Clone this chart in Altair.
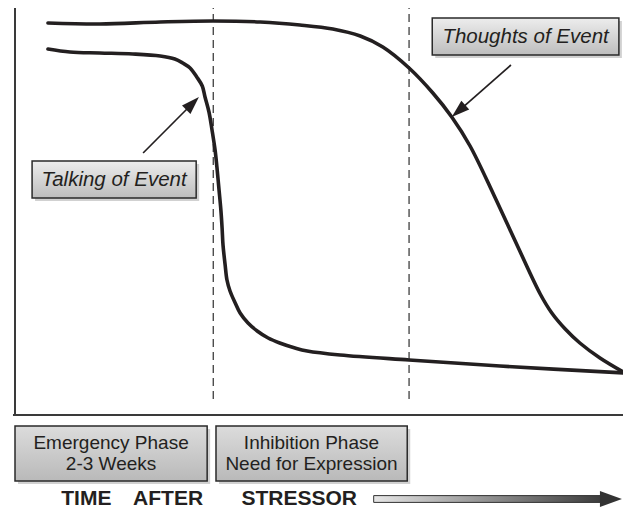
import math
import altair as alt
import pandas as pd

# ---------------- data (time: arbitrary units 0-100, level: 0-100) ----------------
thoughts_t = [5.4, 13.9, 23.8, 32.5, 40.2, 46.7, 52.1, 56.6, 60.3, 64.6, 68.5, 71.6,
              74.6, 78.5, 82.3, 86.1, 88.0, 90.2, 92.6, 95.9, 100.0]
thoughts_v = [98.0, 97.75, 98.25, 98.5, 98.25, 97.5, 96.5, 94.75, 92.0, 86.75, 80.5, 74.5,
              67.25, 55.0, 42.5, 30.25, 25.5, 21.5, 18.0, 14.25, 10.5]

talking_t = [5.4, 9.0, 13.9, 19.3, 23.8, 26.2, 27.5, 28.7, 29.8, 30.7, 31.15, 31.8, 32.3,
             32.8, 33.1, 33.45, 33.75, 33.95, 34.1, 34.45, 34.75, 35.25, 36.1, 36.9, 38.2,
             39.7, 41.5, 43.4, 45.9, 47.9, 53.3, 64.6, 79.5, 100.0]
talking_v = [91.5, 90.75, 90.5, 90.25, 89.75, 89.0, 88.0, 86.75, 84.5, 82.25, 79.5, 75.75, 71.25,
             66.25, 62.0, 56.25, 51.25, 46.75, 42.5, 37.5, 33.75, 31.0, 28.0, 25.5, 23.0,
             21.0, 19.25, 18.0, 16.75, 16.0, 15.0, 13.75, 12.25, 10.5]

phase_bounds = [32.5, 64.6]
phase_line1 = ["Emergency Phase", "Inhibition Phase"]
phase_line2 = ["2-3 Weeks", "Need for Expression"]
curve_labels = ["Talking of Event", "Thoughts of Event"]
axis_title_words = ["TIME", "AFTER", "STRESSOR"]

# ---------------- layout ----------------
W, H = 615, 502
PX_PER_T, PX_PER_V = 6.1, 4.0
ORIGIN_X, ORIGIN_Y = 7, 407          # chart pixel of (t=0, v=0)
xdom = [-ORIGIN_X / PX_PER_T, (W - ORIGIN_X) / PX_PER_T]
ydom = [(ORIGIN_Y - H) / PX_PER_V, ORIGIN_Y / PX_PER_V]
xs = alt.Scale(domain=xdom, nice=False, zero=False)
ys = alt.Scale(domain=ydom, nice=False, zero=False)

INK = "#231f20"
FONT = "Liberation Sans"


def X(f):
    return alt.X(f, type="quantitative", scale=xs, axis=None)


def Y(f):
    return alt.Y(f, type="quantitative", scale=ys, axis=None)


def X2(f):
    return alt.X2(f)


def Y2(f):
    return alt.Y2(f)


# axes lines
axes_df = pd.DataFrame({"x": [0.0, -0.33], "x2": [0.0, xdom[1]],
                        "y": [0.0, 0.0], "y2": [102.0, 0.0]})
axes = alt.Chart(axes_df).mark_rule(stroke="#3a3a3a", strokeWidth=2).encode(
    x=X("x"), x2=X2("x2"), y=Y("y"), y2=Y2("y2"))

# dashed phase boundaries
dash_df = pd.DataFrame({"t": phase_bounds, "y": [4.0] * 2, "y2": [101.75] * 2})
dashes = alt.Chart(dash_df).mark_rule(stroke="#2e2e2e", strokeWidth=1.2,
                                      strokeDash=[8, 5]).encode(
    x=X("t"), y=Y("y"), y2=Y2("y2"))

# curves
curve_df = pd.concat([
    pd.DataFrame({"t": thoughts_t, "v": thoughts_v, "s": "Thoughts of Event"}),
    pd.DataFrame({"t": talking_t, "v": talking_v, "s": "Talking of Event"}),
])
curves = alt.Chart(curve_df).mark_line(interpolate="catmull-rom", strokeWidth=3.6,
                                       color=INK, strokeCap="round").encode(
    x=X("t"), y=Y("v"), detail="s:N")

# boxes
label_boxes = pd.DataFrame({"x": [2.8, 68.4], "x2": [29.7, 99.0],
                            "y": [54.25, 90.0], "y2": [63.5, 99.25]})
phase_boxes = pd.DataFrame({"x": [0.0, 32.95], "x2": [31.5, 64.3],
                            "y": [-16.5, -16.5], "y2": [-2.75, -2.75]})
sh_t, sh_v = 3.0 / PX_PER_T, 3.0 / PX_PER_V


def shadow(df):
    d = df.copy()
    d["x"] += sh_t
    d["x2"] += sh_t
    d["y"] -= sh_v
    d["y2"] -= sh_v
    return alt.Chart(d).mark_rect(color="#7a7a7a", opacity=0.35).encode(
        x=X("x"), x2=X2("x2"), y=Y("y"), y2=Y2("y2"))


grad_label = {"gradient": "linear", "x1": 0, "x2": 0, "y1": 0, "y2": 1,
              "stops": [{"offset": 0, "color": "#ededed"},
                        {"offset": 1, "color": "#bdbdbd"}]}
grad_phase = {"gradient": "linear", "x1": 0, "x2": 0, "y1": 0, "y2": 1,
              "stops": [{"offset": 0, "color": "#dcdcdc"},
                        {"offset": 1, "color": "#b9b9b9"}]}


def boxes(df, grad):
    return alt.Chart(df).mark_rect(fill=grad, stroke="#2a2a2a", strokeWidth=1.5).encode(
        x=X("x"), x2=X2("x2"), y=Y("y"), y2=Y2("y2"))


# label texts
lab_df = pd.DataFrame({"t": [16.25, 83.7], "v": [58.8, 94.6], "txt": curve_labels})
lab_text = alt.Chart(lab_df).mark_text(font=FONT, fontSize=20.5, fontStyle="italic",
                                       color=INK, baseline="middle", align="center").encode(
    x=X("t"), y=Y("v"), text="txt:N")

phase_df = pd.DataFrame({
    "t": [15.75, 48.6, 15.75, 48.6],
    "v": [-8.5, -8.5, -13.75, -13.75],
    "txt": phase_line1 + phase_line2,
})
phase_text = alt.Chart(phase_df).mark_text(font=FONT, fontSize=19, color=INK,
                                           baseline="alphabetic", align="center").encode(
    x=X("t"), y=Y("v"), text="txt:N")

title_df = pd.DataFrame({"t": [11.7, 25.1, 46.6], "v": [-22.5] * 3, "txt": axis_title_words})
title_text = alt.Chart(title_df).mark_text(font=FONT, fontSize=21, fontWeight="bold",
                                           color=INK, baseline="alphabetic",
                                           align="center").encode(
    x=X("t"), y=Y("v"), text="txt:N")

# pointer arrows (tail -> tip)
arrows = [((21.0, 65.5), (30.15, 79.5)), ((81.3, 87.5), (71.6, 74.5))]
HEAD = "M0,0L0.66,2L-0.66,2Z"
arrow_layers = []
for (t0, v0), (t1, v1) in arrows:
    dx = (t1 - t0) * PX_PER_T
    dy = -(v1 - v0) * PX_PER_V
    ang = math.degrees(math.atan2(dx, -dy)) % 360
    L = math.hypot(dx, dy)
    back = 12.0 / L
    te, ve = t1 - (t1 - t0) * back, v1 - (v1 - v0) * back
    ldf = pd.DataFrame({"x": [t0], "y": [v0], "x2": [te], "y2": [ve]})
    arrow_layers.append(alt.Chart(ldf).mark_rule(stroke=INK, strokeWidth=1.7).encode(
        x=X("x"), y=Y("y"), x2=X2("x2"), y2=Y2("y2")))
    hdf = pd.DataFrame({"x": [t1], "y": [v1]})
    arrow_layers.append(alt.Chart(hdf).mark_point(shape=HEAD, filled=True, size=324,
                                                  angle=ang, color=INK, opacity=1,
                                                  strokeWidth=0).encode(
        x=X("x"), y=Y("y")))

# time arrow
shaft_df = pd.DataFrame({"x": [58.8], "x2": [96.0], "y": [-21.85], "y2": [-20.15]})
grad_shaft = {"gradient": "linear", "x1": 0, "x2": 1, "y1": 0, "y2": 0,
              "stops": [{"offset": 0, "color": "#e6e6e6"},
                        {"offset": 1, "color": "#3c3c3c"}]}
shaft = alt.Chart(shaft_df).mark_rect(fill=grad_shaft, stroke="#333333",
                                      strokeWidth=1).encode(
    x=X("x"), x2=X2("x2"), y=Y("y"), y2=Y2("y2"))
thead_df = pd.DataFrame({"x": [99.5], "y": [-21.0]})
thead = alt.Chart(thead_df).mark_point(shape="M0,0L-0.73,2L0.73,2Z", filled=True,
                                       size=484, angle=90, color="#333333", opacity=1,
                                       strokeWidth=0).encode(
    x=X("x"), y=Y("y"))

chart = alt.layer(
    axes, dashes, curves,
    shadow(label_boxes), boxes(label_boxes, grad_label), lab_text,
    shadow(phase_boxes), boxes(phase_boxes, grad_phase), phase_text,
    *arrow_layers,
    title_text, shaft, thead,
).properties(
    width=W, height=H, padding=0, autosize=alt.AutoSizeParams(type="none"),
    background="white",
).configure_view(stroke=None)

chart.save("out.html", embed_options={"renderer": "svg", "actions": False})
